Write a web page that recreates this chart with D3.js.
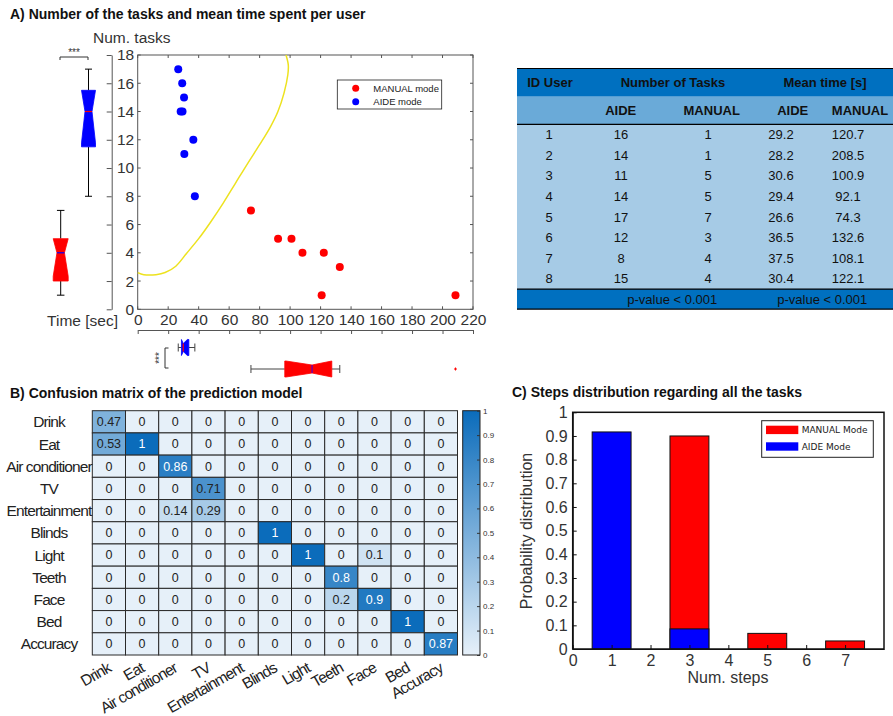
<!DOCTYPE html>
<html><head><meta charset="utf-8">
<script src="https://cdn.jsdelivr.net/npm/d3@7"></script>
<style>body{margin:0;background:#fff;} svg{font-family:"Liberation Sans",Arial,sans-serif;}</style>
</head><body><svg id="c" width="893" height="716"></svg>
<script>
// ---------- DATA ----------
const userIds = [1,2,3,4,5,6,7,8];
const aideTasks = [16,14,11,14,17,12,8,15];
const manualTasks = [1,1,5,5,7,3,4,4];
const aideTime = [29.2,28.2,30.6,29.4,26.6,36.5,37.5,30.4];
const manualTime = [120.7,208.5,100.9,92.1,74.3,132.6,108.1,122.1];
const curveTime  = [0,4,12,18,25,32,40,48,56,64,72,80,87,92,96,98.5,98.8,97.3];
const curveTasks = [2.6,2.45,2.45,2.6,3.05,3.95,5,6.2,7.5,8.9,10.3,11.65,12.9,14,15.3,16.6,17.3,18];
const timeTicks = [0,20,40,60,80,100,120,140,160,180,200,220];
const taskTicks = [0,2,4,6,8,10,12,14,16,18];
const pValueText = ["p-value < 0.001","p-value < 0.001"];

const cmLabels = ["Drink","Eat","Air conditioner","TV","Entertainment","Blinds","Light","Teeth","Face","Bed","Accuracy"];
const cmValues = [
 [0.47,0,0,0,0,0,0,0,0,0,0],
 [0.53,1,0,0,0,0,0,0,0,0,0],
 [0,0,0.86,0,0,0,0,0,0,0,0],
 [0,0,0,0.71,0,0,0,0,0,0,0],
 [0,0,0.14,0.29,0,0,0,0,0,0,0],
 [0,0,0,0,0,1,0,0,0,0,0],
 [0,0,0,0,0,0,1,0,0.1,0,0],
 [0,0,0,0,0,0,0,0.8,0,0,0],
 [0,0,0,0,0,0,0,0.2,0.9,0,0],
 [0,0,0,0,0,0,0,0,0,1,0],
 [0,0,0,0,0,0,0,0,0,0,0.87]
];
const cbTicks = [0,0.1,0.2,0.3,0.4,0.5,0.6,0.7,0.8,0.9,1];

const steps = [1,2,3,4,5,6,7];
const aideSteps = [0.917,0,0.085,0,0,0,0];
const manualSteps = [0,0,0.9,0,0.066,0,0.034];
const stepTicks = [0,1,2,3,4,5,6,7];
const probTicks = [0,0.1,0.2,0.3,0.4,0.5,0.6,0.7,0.8,0.9,1];

// ---------- HELPERS ----------
const FONT = '"Liberation Sans",Arial,sans-serif';
const svg = d3.select("#c");
function prct(sorted, p){ // MATLAB-style percentile
  const n = sorted.length; let pos = p*n + 0.5;
  if (pos <= 1) return sorted[0]; if (pos >= n) return sorted[n-1];
  const i = Math.floor(pos), f = pos - i;
  return sorted[i-1] + f*(sorted[i]-sorted[i-1]);
}
function boxStats(vals){
  const s = vals.slice().sort((a,b)=>a-b);
  const q1 = prct(s,0.25), med = prct(s,0.5), q3 = prct(s,0.75), iqr = q3-q1;
  const loF = q1-1.5*iqr, hiF = q3+1.5*iqr;
  const inl = s.filter(v=>v>=loF && v<=hiF);
  const notch = 1.57*iqr/Math.sqrt(s.length);
  return {q1,med,q3,lo:d3.min(inl),hi:d3.max(inl),out:s.filter(v=>v<loF||v>hiF),
          nlo:Math.max(q1,med-notch), nhi:Math.min(q3,med+notch)};
}
function drawBox(vals, scale, center, w, fill, medColor, orient, whiskerColor){
  const st = boxStats(vals);
  const P = (v,o)=> orient==='v' ? [center+o, scale(v)] : [scale(v), center+o];
  const g = svg.append("g");
  const wc = whiskerColor||"#000";
  [[st.q3,st.hi],[st.q1,st.lo]].forEach(([a,b])=>{
    const p1=P(a,0), p2=P(b,0);
    g.append("line").attr("x1",p1[0]).attr("y1",p1[1]).attr("x2",p2[0]).attr("y2",p2[1]).attr("stroke",wc).attr("stroke-width",1);
    const c1=P(b,-w*0.25), c2=P(b,w*0.25);
    g.append("line").attr("x1",c1[0]).attr("y1",c1[1]).attr("x2",c2[0]).attr("y2",c2[1]).attr("stroke",wc).attr("stroke-width",1);
  });
  const pts = [P(st.q1,-w/2),P(st.nlo,-w/2),P(st.med,-w/4),P(st.nhi,-w/2),P(st.q3,-w/2),
               P(st.q3,w/2),P(st.nhi,w/2),P(st.med,w/4),P(st.nlo,w/2),P(st.q1,w/2)];
  g.append("polygon").attr("points",pts.map(p=>p.join(",")).join(" ")).attr("fill",fill).attr("stroke",fill).attr("stroke-width",0.8);
  const m1=P(st.med,-w/4), m2=P(st.med,w/4);
  g.append("line").attr("x1",m1[0]).attr("y1",m1[1]).attr("x2",m2[0]).attr("y2",m2[1]).attr("stroke",medColor).attr("stroke-width",1.2);
  st.out.forEach(v=>{
    const p=P(v,0);
    g.append("path").attr("d",`M${p[0]-1.5},${p[1]}h3M${p[0]},${p[1]-1.5}v3`).attr("stroke",fill).attr("stroke-width",1);
  });
}

// ---------- PANEL A ----------
svg.append("text").attr("x",10).attr("y",19).attr("font-weight","bold").attr("font-size",14).attr("fill","#111")
  .text("A) Number of the tasks and mean time spent per user");

const xA = d3.scaleLinear().domain([0,220]).range([137.7,473]);
const yA = d3.scaleLinear().domain([0,18]).range([309.3,55]);
const axGrey = "#555";

svg.append("rect").attr("x",xA(0)).attr("y",yA(18)).attr("width",xA(220)-xA(0)).attr("height",yA(0)-yA(18))
  .attr("fill","none").attr("stroke",axGrey).attr("stroke-width",1);
timeTicks.forEach(t=>{
  svg.append("line").attr("x1",xA(t)).attr("x2",xA(t)).attr("y1",yA(18)).attr("y2",yA(18)+3).attr("stroke",axGrey);
  svg.append("line").attr("x1",xA(t)).attr("x2",xA(t)).attr("y1",yA(0)).attr("y2",yA(0)-3).attr("stroke",axGrey);
});
taskTicks.forEach(t=>{
  svg.append("line").attr("x1",xA(220)).attr("x2",xA(220)-3).attr("y1",yA(t)).attr("y2",yA(t)).attr("stroke",axGrey);
  svg.append("line").attr("x1",xA(0)).attr("x2",xA(0)+3).attr("y1",yA(t)).attr("y2",yA(t)).attr("stroke",axGrey);
});

svg.append("path").datum(curveTime.map((t,i)=>[t,curveTasks[i]]))
  .attr("d",d3.line().x(d=>xA(d[0])).y(d=>yA(d[1])).curve(d3.curveCatmullRom.alpha(0.5)))
  .attr("fill","none").attr("stroke","#ede21f").attr("stroke-width",1.5);

svg.append("g").selectAll("circle").data(manualTime.map((t,i)=>[t,manualTasks[i]])).join("circle")
  .attr("cx",d=>xA(d[0])).attr("cy",d=>yA(d[1])).attr("r",4).attr("fill","#ff0000");
svg.append("g").selectAll("circle").data(aideTime.map((t,i)=>[t,aideTasks[i]])).join("circle")
  .attr("cx",d=>xA(d[0])).attr("cy",d=>yA(d[1])).attr("r",4).attr("fill","#0000ff");

svg.append("rect").attr("x",337.3).attr("y",80).attr("width",104.4).attr("height",29).attr("fill","#fff").attr("stroke","#222").attr("stroke-width",0.8);
[["MANUAL mode","#ff0000",88.3],["AIDE mode","#0000ff",101.7]].forEach(([t,c,yy])=>{
  svg.append("circle").attr("cx",355.7).attr("cy",yy).attr("r",3.5).attr("fill",c);
  svg.append("text").attr("x",373.3).attr("y",yy+3.3).attr("font-size",9.5).attr("fill","#222").text(t);
});

const gy = svg.append("g").attr("transform","translate(111.7,0)")
  .call(d3.axisLeft(yA).tickValues(taskTicks).tickSize(5).tickSizeOuter(0));
gy.attr("font-family",FONT).attr("font-size",15.5);
gy.select(".domain").attr("stroke",axGrey);
gy.selectAll(".tick line").attr("stroke",axGrey);
gy.selectAll(".tick text").attr("x",22.5).attr("text-anchor","end").attr("fill","#333");

const gx = svg.append("g").attr("transform","translate(0,330)")
  .call(d3.axisBottom(xA).tickValues(timeTicks).tickSize(4).tickSizeOuter(0));
gx.attr("font-family",FONT).attr("font-size",15.5);
gx.select(".domain").attr("stroke",axGrey);
gx.selectAll(".tick line").attr("stroke",axGrey);
gx.selectAll(".tick text").attr("y",-5).attr("dy","0").attr("fill","#333");

svg.append("text").attr("x",118).attr("y",326).attr("text-anchor","end").attr("font-size",15.5).attr("fill","#333").text("Time [sec]");
svg.append("text").attr("x",93).attr("y",43).attr("font-size",15.5).attr("fill","#333").text("Num. tasks");

drawBox(aideTasks, yA, 88.5, 14, "#0000ff", "#ff0000", 'v');
drawBox(manualTasks, yA, 60.7, 15, "#ff0000", "#0000ff", 'v');
drawBox(aideTime, xA, 347.5, 16, "#0000ff", "#ff0000", 'h', "#444");
drawBox(manualTime, xA, 369, 16, "#ff0000", "#5500cc", 'h', "#444");

svg.append("path").attr("d","M60,60V57H88V60").attr("fill","none").attr("stroke","#333").attr("stroke-width",1);
svg.append("text").attr("x",74).attr("y",56).attr("text-anchor","middle").attr("font-size",10).attr("fill","#333").text("***");
svg.append("path").attr("d","M168.5,348H165V368H168.5").attr("fill","none").attr("stroke","#333").attr("stroke-width",1);
svg.append("text").attr("transform","translate(163,358) rotate(-90)").attr("text-anchor","middle").attr("font-size",10).attr("fill","#333").text("***");

// ---------- TABLE ----------
const colX = [549,621,708,781,848];
const tY0 = 68.5, h1 = 28.2, h2 = 27.6, rowH = 20.6, fH = 20;
const tX0 = 517, tW = 380;
const rowsTop = tY0+h1+h2;
const footTop = rowsTop + userIds.length*rowH;
svg.append("rect").attr("x",tX0).attr("y",tY0).attr("width",tW).attr("height",h1).attr("fill","#0070c0");
svg.append("rect").attr("x",tX0).attr("y",tY0+h1).attr("width",tW).attr("height",h2).attr("fill","#6aaad8");
svg.append("rect").attr("x",tX0).attr("y",rowsTop).attr("width",tW).attr("height",footTop-rowsTop).attr("fill","#a6cbe6");
svg.append("rect").attr("x",tX0).attr("y",footTop).attr("width",tW).attr("height",fH).attr("fill","#0070c0");
[tY0, rowsTop, footTop, footTop+fH].forEach(yy=>svg.append("line").attr("x1",tX0).attr("x2",tX0+tW).attr("y1",yy).attr("y2",yy).attr("stroke","#000").attr("stroke-width",1.2));
const hdr = svg.append("g").attr("font-weight","bold").attr("font-size",13).attr("fill","#111").attr("text-anchor","middle");
hdr.append("text").attr("x",550).attr("y",tY0+h1/2+4.6).text("ID User");
hdr.append("text").attr("x",673).attr("y",tY0+h1/2+4.6).text("Number of Tasks");
hdr.append("text").attr("x",825).attr("y",tY0+h1/2+4.6).text("Mean time [s]");
[["AIDE",620.7],["MANUAL",711.7],["AIDE",792.7],["MANUAL",860]].forEach(([t,x])=>
  hdr.append("text").attr("x",x).attr("y",tY0+h1+h2/2+4.6).text(t));
const body = svg.append("g").attr("font-size",13).attr("fill","#111").attr("text-anchor","middle");
userIds.forEach((u,i)=>{
  const yy = rowsTop + i*rowH + rowH/2 + 4.6;
  [u, aideTasks[i], manualTasks[i], aideTime[i].toFixed(1), manualTime[i].toFixed(1)].forEach((v,j)=>
    body.append("text").attr("x",colX[j]).attr("y",yy).text(v));
});
[672.3, 822.3].forEach((x,i)=>body.append("text").attr("x",x).attr("y",footTop+fH/2+4.6).text(pValueText[i]));

// ---------- PANEL B ----------
svg.append("text").attr("x",10).attr("y",398).attr("font-weight","bold").attr("font-size",14).attr("fill","#111")
  .text("B) Confusion matrix of the prediction model");
const xB = d3.scaleBand().domain(cmLabels).range([92.3,457.5]);
const yB = d3.scaleBand().domain(cmLabels).range([410.7,655]);
const cB = d3.scaleLinear().domain([0,1]).range(["#e6f0f9","#0b6cbb"]);
const cells = [];
cmValues.forEach((row,i)=>row.forEach((v,j)=>cells.push({r:cmLabels[i],c:cmLabels[j],v})));
const cg = svg.append("g");
cg.selectAll("rect").data(cells).join("rect")
  .attr("x",d=>xB(d.c)).attr("y",d=>yB(d.r)).attr("width",xB.bandwidth()).attr("height",yB.bandwidth())
  .attr("fill",d=>cB(d.v)).attr("stroke","#2a2a2a").attr("stroke-width",1);
cg.selectAll("text").data(cells).join("text")
  .attr("x",d=>xB(d.c)+xB.bandwidth()/2).attr("y",d=>yB(d.r)+yB.bandwidth()/2+4.4)
  .attr("text-anchor","middle").attr("font-size",12.5).attr("fill",d=>d.v>0.75?"#fff":"#222")
  .text(d=>d.v===0?"0":String(d.v));
svg.append("g").selectAll("text").data(cmLabels).join("text")
  .attr("x",49).attr("y",d=>yB(d)+yB.bandwidth()/2+5.5).attr("text-anchor","middle")
  .attr("font-size",15.5).attr("letter-spacing",-0.9).attr("fill","#222").text(d=>d);
svg.append("g").selectAll("text").data(cmLabels).join("text")
  .attr("transform",d=>`translate(${xB(d)+xB.bandwidth()/2+3},671) rotate(-30)`)
  .attr("text-anchor","end").attr("font-size",15.5).attr("letter-spacing",-0.9).attr("fill","#222").text(d=>d);

const cbY = d3.scaleLinear().domain([0,1]).range([655,410.7]);
const defs = svg.append("defs");
const grad = defs.append("linearGradient").attr("id","cbg").attr("x1",0).attr("y1",1).attr("x2",0).attr("y2",0);
cbTicks.forEach(t=>grad.append("stop").attr("offset",t).attr("stop-color",cB(t)));
svg.append("rect").attr("x",462.7).attr("y",410.7).attr("width",17.3).attr("height",244.3).attr("fill","url(#cbg)").attr("stroke","#222").attr("stroke-width",1);
const gcb = svg.append("g").attr("transform","translate(480,0)")
  .call(d3.axisRight(cbY).tickValues(cbTicks).tickSize(-3).tickSizeOuter(0).tickPadding(3).tickFormat(d=>String(d)));
gcb.attr("font-family",FONT).attr("font-size",8);
gcb.select(".domain").remove();
gcb.selectAll(".tick line").attr("stroke","#333");
gcb.selectAll(".tick text").attr("fill","#333");

// ---------- PANEL C ----------
svg.append("text").attr("x",512).attr("y",397).attr("font-weight","bold").attr("font-size",14).attr("fill","#111")
  .text("C) Steps distribution regarding all the tasks");
const xC = d3.scaleLinear().domain([0,8]).range([572.7,884]);
const yC = d3.scaleLinear().domain([0,1]).range([649,412.3]);
const bw = xC(1)-xC(0);
const manualData = steps.map((s,i)=>({s,v:manualSteps[i]})).filter(d=>d.v>0);
const aideData = steps.map((s,i)=>({s,v:aideSteps[i]})).filter(d=>d.v>0);
svg.append("g").selectAll("rect").data(manualData).join("rect")
  .attr("x",d=>xC(d.s-0.5)).attr("width",bw).attr("y",d=>yC(d.v)).attr("height",d=>yC(0)-yC(d.v))
  .attr("fill","#ff0000").attr("stroke","#111").attr("stroke-width",1);
svg.append("g").selectAll("rect").data(aideData).join("rect")
  .attr("x",d=>xC(d.s-0.5)).attr("width",bw).attr("y",d=>yC(d.v)).attr("height",d=>yC(0)-yC(d.v))
  .attr("fill","#0000ff").attr("stroke","#111").attr("stroke-width",1);
svg.append("rect").attr("x",xC(0)).attr("y",yC(1)).attr("width",xC(8)-xC(0)).attr("height",yC(0)-yC(1))
  .attr("fill","none").attr("stroke","#111").attr("stroke-width",1.5);
const gyc = svg.append("g").attr("transform",`translate(${xC(0)},0)`)
  .call(d3.axisLeft(yC).tickValues(probTicks).tickSize(-4).tickSizeOuter(0).tickPadding(5).tickFormat(d=>String(d)));
gyc.attr("font-family",FONT).attr("font-size",16);
gyc.select(".domain").attr("stroke","#111");
gyc.selectAll(".tick line").attr("stroke","#111");
gyc.selectAll(".tick text").attr("fill","#333");
const gxc = svg.append("g").attr("transform",`translate(0,${yC(0)})`)
  .call(d3.axisBottom(xC).tickValues(stepTicks).tickSize(-4).tickSizeOuter(0).tickPadding(6).tickFormat(d=>String(d)));
gxc.attr("font-family",FONT).attr("font-size",16);
gxc.select(".domain").attr("stroke","#111");
gxc.selectAll(".tick line").attr("stroke","#111");
gxc.selectAll(".tick text").attr("fill","#333");
svg.append("text").attr("x",728).attr("y",683).attr("text-anchor","middle").attr("font-size",16).attr("fill","#333").text("Num. steps");
svg.append("text").attr("transform","translate(532,531) rotate(-90)").attr("text-anchor","middle").attr("font-size",16).attr("fill","#333").text("Probability distribution");

svg.append("rect").attr("x",761.7).attr("y",420.7).attr("width",111.6).attr("height",36.6).attr("fill","#fff").attr("stroke","#222").attr("stroke-width",1);
[["MANUAL Mode","#ff0000",425.7],["AIDE Mode","#0000ff",442.3]].forEach(([t,c,yy])=>{
  svg.append("rect").attr("x",766).attr("y",yy).attr("width",32.3).attr("height",8.4).attr("fill",c);
  svg.append("text").attr("x",801.7).attr("y",yy+7.7).attr("font-family","DejaVu Sans, Verdana, sans-serif").attr("font-size",9).attr("fill","#222").text(t);
});
</script></body></html>
